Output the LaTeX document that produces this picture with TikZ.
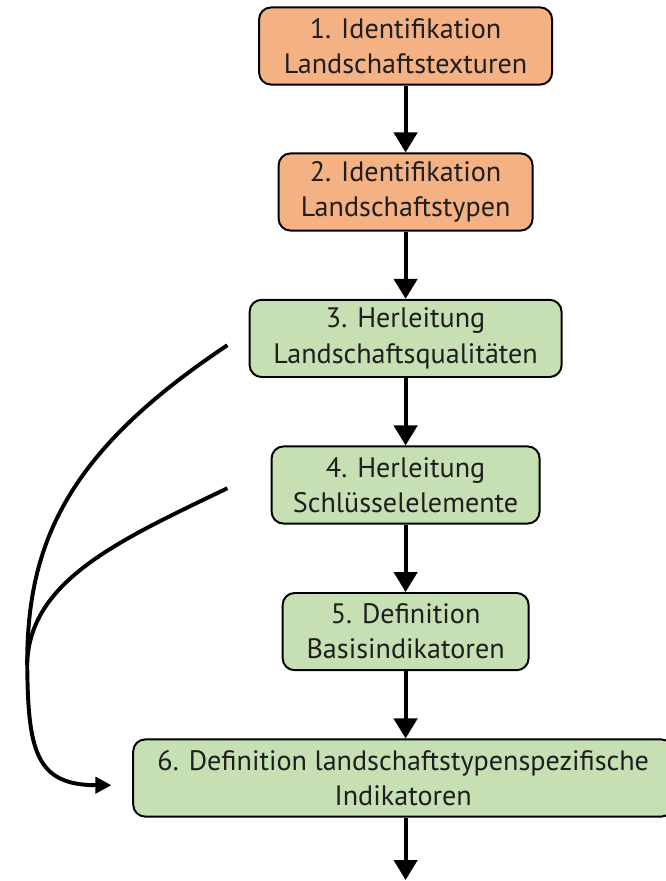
\documentclass[tikz,border=0pt]{standalone}
\usepackage{fontspec}
\setmainfont{PT Sans}
\usepackage{tikz}
\usetikzlibrary{arrows.meta, calc}
\definecolor{lsorange}{HTML}{F4B183}
\definecolor{lsgreen}{HTML}{C6E0B4}
\definecolor{lstext}{HTML}{1E1E1E}
\tikzset{
  stepbox/.style={draw=black, line width=1.4pt, rounded corners=0.3cm,
    align=center, text=lstext, font=\fontsize{20}{25}\selectfont,
    minimum height=1.93cm, inner sep=0pt},
  flow/.style={line width=2.8pt, -{Triangle[width=0.58cm,length=0.5cm]}},
  back/.style={line width=2.8pt, -{Triangle[width=0.4cm,length=0.4cm]}}
}

\begin{document}
\begin{tikzpicture}
  \useasboundingbox (0,0) rectangle (16.625,-22.025);
  % steps
  \node[stepbox, fill=lsorange, minimum width=7.325cm] (n1) at (10.14,-1.15)
    {1. Identifikation\\Landschaftstexturen};
  \node[stepbox, fill=lsorange, minimum width=6.35cm] (n2) at (10.14,-4.8)
    {2. Identifikation\\Landschaftstypen};
  \node[stepbox, fill=lsgreen, minimum width=7.8cm] (n3) at (10.14,-8.46)
    {3. Herleitung\\Landschaftsqualitäten};
  \node[stepbox, fill=lsgreen, minimum width=6.7cm] (n4) at (10.14,-12.125)
    {4. Herleitung\\Schlüsselelemente};
  \node[stepbox, fill=lsgreen, minimum width=6.15cm] (n5) at (10.14,-15.79)
    {5. Definition\\Basisindikatoren};
  \node[stepbox, fill=lsgreen, minimum width=13.5cm] (n6) at (10.08,-19.45)
    {6. Definition landschaftstypenspezifische\\Indikatoren};
  % main flow
  \draw[flow] (n1) -- (n2);
  \draw[flow] (n2) -- (n3);
  \draw[flow] (n3) -- (n4);
  \draw[flow] (n4) -- (n5);
  \draw[flow] (n5.south) -- (n5.south |- n6.north);
  \coordinate (out) at (10.14,-22.0);
  \draw[flow] (n6.south -| out) -- (out);
  % feedback into step 6
  \coordinate (q3) at ($(n3.west)+(-0.53,-0.17)$);
  \coordinate (q4) at ($(n4.west)+(-1.08,-0.08)$);
  \coordinate (join) at (0.68,-16.58);
  \coordinate (in6) at ($(n6.west)+(-0.52,-0.18)$);
  \draw[back] (q3) .. controls (1.75,-11.25) and (0.68,-13.5) .. (join)
    .. controls (0.7,-18.75) and (0.88,-19.63) .. (in6);
  \draw[line width=2.8pt] (q4) .. controls (3.0,-13.5) and (0.75,-14.5) .. (join);
\end{tikzpicture}
\end{document}
